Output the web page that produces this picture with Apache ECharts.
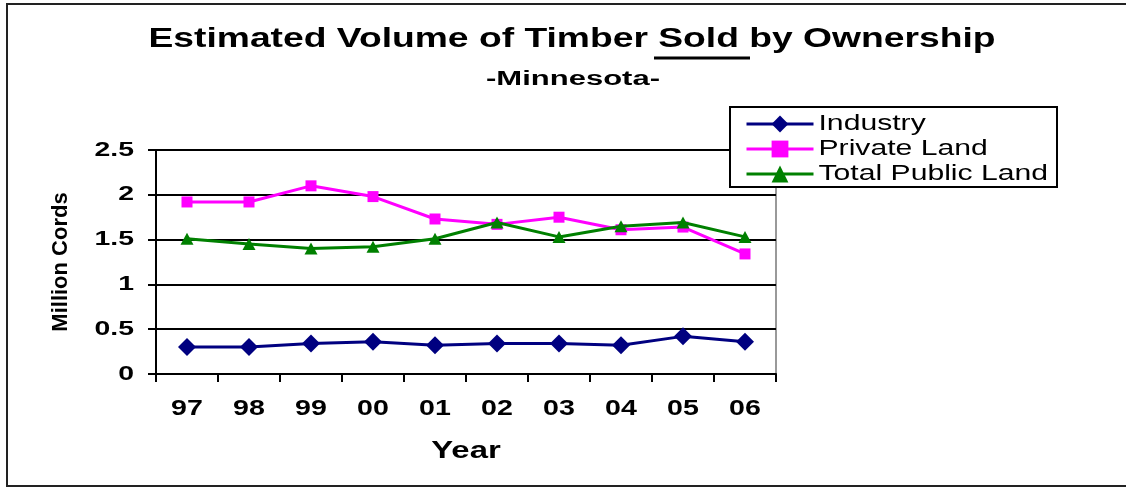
<!DOCTYPE html>
<html>
<head>
<meta charset="utf-8">
<script src="https://cdn.jsdelivr.net/npm/echarts@6/dist/echarts.min.js"></script>
<style>
html,body{margin:0;padding:0;background:#fff;}
#chart{width:1126px;height:487px;}
</style>
</head>
<body>
<div id="chart"></div>
<script>
const years = ['97','98','99','00','01','02','03','04','05','06'];
const industry = [0.30,0.30,0.34,0.36,0.32,0.34,0.34,0.32,0.42,0.36];
const privateLand = [1.92,1.92,2.10,1.98,1.73,1.67,1.75,1.61,1.64,1.34];
const publicLand = [1.51,1.45,1.40,1.42,1.51,1.69,1.53,1.65,1.69,1.53];
const yTicks = [0,0.5,1,1.5,2,2.5];
const seriesNames = ['Industry','Private Land','Total Public Land'];

const sans = "'Liberation Sans',Arial,sans-serif";

const chart = echarts.init(document.getElementById('chart'));
chart.setOption({
  animation:false,
  backgroundColor:'#fff',
  graphic:[
    {type:'rect',shape:{x:7,y:4,width:1130,height:482},style:{fill:'none',stroke:'#222',lineWidth:2},z:-1},
    {type:'text',x:572,y:39,scaleX:1.33,style:{text:'Estimated Volume of Timber Sold by Ownership',font:"bold 28px "+sans,fill:'#000',align:'center',verticalAlign:'middle'}},
    {type:'text',x:573,y:79,scaleX:1.55,style:{text:'-Minnesota-',font:"bold 20px "+sans,fill:'#000',align:'center',verticalAlign:'middle'}},
    {type:'line',shape:{x1:654,y1:58,x2:750,y2:58},style:{stroke:'#000',lineWidth:3}},
    {type:'rect',z:3,shape:{x:730,y:107,width:327,height:80},style:{fill:'#fff',stroke:'#000',lineWidth:2}}
  ],
  grid:{left:156,top:150,width:620,height:224,show:true,borderColor:'#999',borderWidth:2,backgroundColor:'transparent'},
  legend:{
    orient:'vertical',left:745,top:113,z:5,
    padding:0,itemGap:3,itemWidth:67,itemHeight:21,
    lineStyle:{width:3},
    textStyle:{fontFamily:sans,fontSize:22,color:'#000'},
    data:seriesNames
  },
  xAxis:{
    type:'category',data:years,boundaryGap:true,
    name:'Year',nameLocation:'middle',nameGap:66,
    nameTextStyle:{fontFamily:sans,fontWeight:'bold',fontSize:23,color:'#000'},
    axisLine:{lineStyle:{color:'#000',width:2}},
    axisTick:{show:true,length:8,lineStyle:{color:'#000',width:2}},
    axisLabel:{margin:24,fontFamily:sans,fontWeight:'bold',fontSize:22,color:'#000'}
  },
  yAxis:{
    type:'value',min:0,max:2.5,interval:0.5,
    name:'Million Cords',nameLocation:'middle',nameGap:84,nameRotate:90,
    nameTextStyle:{fontFamily:sans,fontWeight:'bold',fontSize:22,color:'#000'},
    axisLine:{show:true,lineStyle:{color:'#000',width:2}},
    axisTick:{show:true,length:8,lineStyle:{color:'#000',width:2}},
    splitLine:{show:true,lineStyle:{color:'#000',width:2}},
    axisLabel:{margin:22,fontFamily:sans,fontWeight:'bold',fontSize:20,color:'#000',
      formatter:function(v){return yTicks.indexOf(v)>=0?String(v):'';}}
  },
  series:[
    {name:seriesNames[0],type:'line',data:industry,symbol:'diamond',symbolSize:18,
     itemStyle:{color:'#000080'},lineStyle:{color:'#000080',width:3},z:3},
    {name:seriesNames[1],type:'line',data:privateLand,symbol:'rect',symbolSize:11,
     itemStyle:{color:'#FF00FF'},lineStyle:{color:'#FF00FF',width:3},z:3},
    {name:seriesNames[2],type:'line',data:publicLand,symbol:'triangle',symbolSize:[13,12],
     itemStyle:{color:'#008000'},lineStyle:{color:'#008000',width:3},z:4}
  ]
});

// The reference picture is horizontally stretched: widen text glyphs about their anchors.
(function stretchTexts(){
  const zr = chart.getZr();
  const yLabelSet = yTicks.map(String);
  zr.storage.getRoots().forEach(function(root){
    const visit = function(el){
      if (el.type === 'text' && el.style) {
        const t = el.style.text;
        if (typeof t !== 'string' || Math.abs(el.rotation || 0) > 0.01) return;
        let s = 0;
        if (years.indexOf(t) >= 0) s = 1.3;
        else if (yLabelSet.indexOf(t) >= 0) s = 1.42;
        else if (t === 'Year') s = 1.43;
        else if (seriesNames.indexOf(t) >= 0) s = 1.37;
        if (s) { el.scaleX = s; el.originX = el.style.x || 0; el.markRedraw(); }
      }
    };
    if (root.traverse) root.traverse(visit); else visit(root);
  });
  zr.refresh();
})();
</script>
</body>
</html>
